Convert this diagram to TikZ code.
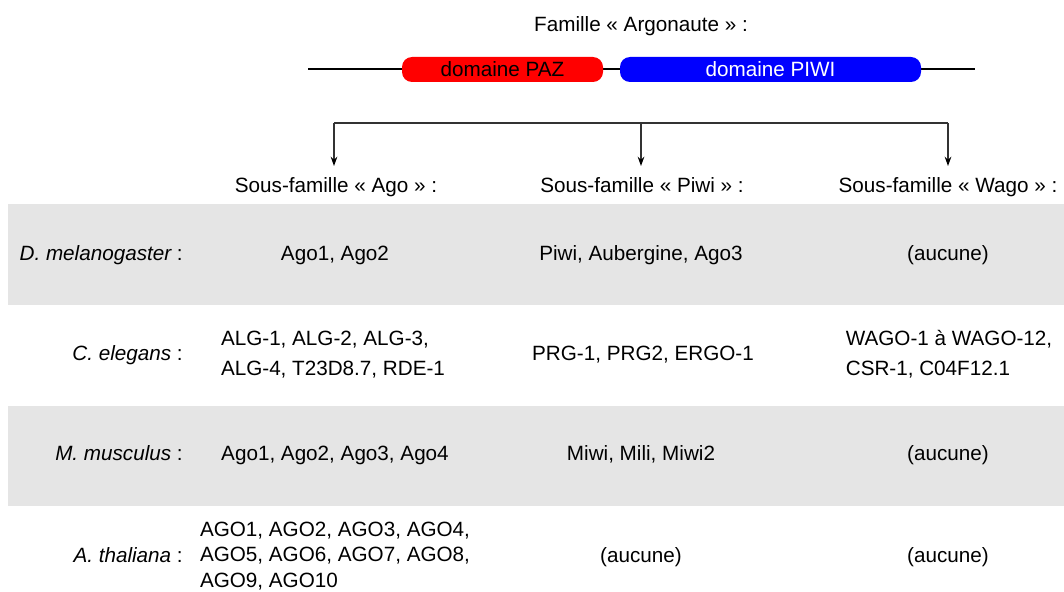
\documentclass[tikz,border=0pt]{standalone}
\usepackage{fontspec}
\setmainfont{Liberation Sans}
\usetikzlibrary{arrows.meta}
\definecolor{bandgray}{HTML}{E5E5E5}
\definecolor{linkgray}{HTML}{333333}
\tikzset{
  txt/.style={font=\fontsize{15.5}{22.5}\selectfont, inner sep=0pt},
  one/.style={txt, text height=11.1pt, text depth=0pt},
  cell/.style={txt, align=left},
  species/.style={one, anchor=east},
  dom/.style={one, rounded corners=7.5pt, minimum height=18.75pt},
  branch/.style={draw=linkgray, line width=1pt},
  arr/.style={branch, -{Stealth[length=7pt,width=5pt,black]}},
  backbone/.style={line width=1.5pt, black}
}
\begin{document}
\begin{tikzpicture}[x=0.75pt,y=-0.75pt]
\useasboundingbox (0,0) rectangle (1064,592);
% bands
\fill[bandgray] (8,204) rectangle (1064,305);
\fill[bandgray] (8,406) rectangle (1064,506);
% title and domains
\node[one] (title) at (641,24) {Famille « Argonaute » :};
\coordinate (bL) at (308,69);
\coordinate (bR) at (975,69);
\draw[backbone] (bL) -- (bR);
\node[dom, fill=red, text=black, minimum width=150.75pt] (paz) at (502.5,69.5) {domaine PAZ};
\node[dom, fill=blue, text=white, minimum width=225.75pt] (piwi) at (770.5,69.5) {domaine PIWI};
% branches
\coordinate (hL) at (334,123);
\coordinate (hM) at (641,123);
\coordinate (hR) at (948,123);
\coordinate (tA) at (334,166);
\coordinate (tP) at (641,166);
\coordinate (tW) at (948,166);
\draw[branch] (hL) -- (hR);
\draw[arr] (hL) -- (tA);
\draw[arr] (hM) -- (tP);
\draw[arr] (hR) -- (tW);
% headers
\node[one] (hAgo) at (336,185) {Sous-famille « Ago » :};
\node[one] (hPiwi) at (642,185) {Sous-famille « Piwi » :};
\node[one] (hWago) at (948,185) {Sous-famille « Wago » :};
% row 1
\node[species] (s1) at (183,253) {\itshape D. melanogaster\upshape\ :};
\node[one] (a1) at (335,253) {Ago1, Ago2};
\node[one] (p1) at (641,253) {Piwi, Aubergine, Ago3};
\node[one] (w1) at (948,253) {(aucune)};
% row 2
\node[species] (s2) at (183,353) {\itshape C. elegans\upshape\ :};
\node[cell] (a2) at (333,355) {ALG-1, ALG-2, ALG-3,\\ALG-4, T23D8.7, RDE-1};
\node[one] (p2) at (643,353) {PRG-1, PRG2, ERGO-1};
\node[cell] (w2) at (949,354) {WAGO-1 à WAGO-12,\\CSR-1, C04F12.1};
% row 3
\node[species] (s3) at (183,453) {\itshape M. musculus\upshape\ :};
\node[one] (a3) at (335,453) {Ago1, Ago2, Ago3, Ago4};
\node[one] (p3) at (641,453) {Miwi, Mili, Miwi2};
\node[one] (w3) at (948,453) {(aucune)};
% row 4
\node[species] (s4) at (183,555) {\itshape A. thaliana\upshape\ :};
\node[cell, font=\fontsize{15.5}{19}\selectfont] (a4) at (335,556) {AGO1, AGO2, AGO3, AGO4,\\AGO5, AGO6, AGO7, AGO8,\\AGO9, AGO10};
\node[one] (p4) at (641,555) {(aucune)};
\node[one] (w4) at (948,555) {(aucune)};
\end{tikzpicture}
\end{document}
